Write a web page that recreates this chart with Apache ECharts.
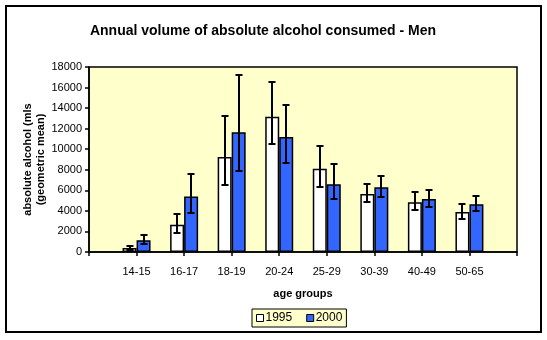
<!DOCTYPE html>
<html>
<head>
<meta charset="utf-8">
<script src="https://cdn.jsdelivr.net/npm/echarts@6/dist/echarts.min.js"></script>
<style>
html,body{margin:0;padding:0;background:#fff;}
#chart{width:547px;height:340px;}
</style>
</head>
<body>
<div id="chart"></div>
<script>
var categories = ['14-15', '16-17', '18-19', '20-24', '25-29', '30-39', '40-49', '50-65'];
var values1995 = [400, 2650, 9250, 13150, 8100, 5650, 4850, 3900];
var low1995    = [200, 1850, 6500, 10500, 6300, 4850, 4100, 3200];
var high1995   = [580, 3700, 13200, 16550, 10300, 6600, 5850, 4650];
var values2000 = [1150, 5400, 11650, 11200, 6600, 6300, 5150, 4650];
var low2000    = [800, 3800, 7900, 8650, 5150, 5400, 4400, 4000];
var high2000   = [1650, 7600, 17200, 14300, 8550, 7400, 6050, 5450];
var yTicks = [0, 2000, 4000, 6000, 8000, 10000, 12000, 14000, 16000, 18000];

// category axis padded with an empty slot on each side
var cats = [''].concat(categories, ['']);
function pad(a) { return [null].concat(a, [null]); }
function errData(lo, hi) {
  return categories.map(function (c, i) { return [i + 1, lo[i], hi[i]]; });
}
var BAR_W = 14;
function errRender(offset) {
  return function (params, api) {
    var x = api.value(0), lo = api.value(1), hi = api.value(2);
    var pLo = api.coord([x, lo]);
    var pHi = api.coord([x, hi]);
    var cx = Math.round(pLo[0] + offset);
    var cap = 3.5;
    var st = { stroke: '#000', lineWidth: 2 };
    var yHi = Math.round(pHi[1]), yLo = Math.round(pLo[1]);
    return {
      type: 'group',
      children: [
        { type: 'line', shape: { x1: cx, y1: yHi, x2: cx, y2: yLo }, style: st },
        { type: 'line', shape: { x1: cx - cap, y1: yHi, x2: cx + cap, y2: yHi }, style: st },
        { type: 'line', shape: { x1: cx - cap, y1: yLo, x2: cx + cap, y2: yLo }, style: st }
      ]
    };
  };
}

var chart = echarts.init(document.getElementById('chart'), null, { renderer: 'canvas' });
var font = 'Liberation Sans, Arial, sans-serif';
chart.setOption({
  animation: false,
  backgroundColor: '#fff',
  textStyle: { fontFamily: font },
  title: {
    text: 'Annual volume of absolute alcohol consumed - Men',
    left: 258, top: 19, textAlign: 'center',
    textStyle: { fontFamily: font, fontSize: 14, fontWeight: 'bold', color: '#000' }
  },
  grid: {
    left: 89, right: 30, top: 67, bottom: 88,
    show: true, backgroundColor: '#FFFFCC', borderColor: '#000', borderWidth: 1.5
  },
  legend: {
    data: ['1995', '2000'],
    left: 252, top: 309,
    padding: [3, 4, 3, 4],
    itemGap: 14, itemWidth: 7, itemHeight: 7,
    backgroundColor: '#FFFFCC', borderColor: '#000', borderWidth: 1,
    icon: 'rect',
    itemStyle: { borderColor: '#000', borderWidth: 1 },
    textStyle: { fontFamily: font, fontSize: 12, color: '#000', padding: [0, 0, 0, -3] }
  },
  xAxis: {
    type: 'category',
    data: cats,
    boundaryGap: false,
    name: 'age groups',
    nameLocation: 'middle',
    nameGap: 36,
    nameTextStyle: { fontFamily: font, fontSize: 11, fontWeight: 'bold', color: '#000' },
    axisLine: { lineStyle: { color: '#000', width: 1.5 } },
    axisTick: { show: true, inside: false, length: 4, lineStyle: { color: '#000', width: 1.5 } },
    axisLabel: { fontFamily: font, fontSize: 11, color: '#000', margin: 14, interval: 0 },
    splitLine: { show: false }
  },
  yAxis: {
    type: 'value',
    min: 0, max: 18000, interval: 2000,
    name: 'absolute alcohol (mls\n(geometric mean)',
    nameLocation: 'middle',
    nameRotate: 90,
    nameGap: 42,
    nameMoveOverlap: false,
    nameTextStyle: { fontFamily: font, fontSize: 11, fontWeight: 'bold', color: '#000', lineHeight: 13 },
    axisLine: { show: true, lineStyle: { color: '#000', width: 1.5 } },
    axisTick: { show: true, inside: false, length: 4, lineStyle: { color: '#000', width: 1.5 } },
    axisLabel: { fontFamily: font, fontSize: 11, color: '#000', margin: 7,
      formatter: function (v) { return yTicks.indexOf(v) >= 0 ? String(v) : ''; } },
    splitLine: { show: false }
  },
  series: [
    {
      name: '1995', type: 'bar', data: pad(values1995), barWidth: BAR_W, barGap: '0%',
      itemStyle: { color: '#FFFFFF', borderColor: '#000', borderWidth: 1.5 }
    },
    {
      name: '2000', type: 'bar', data: pad(values2000), barWidth: BAR_W, barGap: '0%',
      itemStyle: { color: '#3366FF', borderColor: '#000', borderWidth: 1.5 }
    },
    {
      name: 'err1995', type: 'custom', data: errData(low1995, high1995),
      renderItem: errRender(-BAR_W / 2), z: 10, encode: { x: 0, y: [1, 2] }
    },
    {
      name: 'err2000', type: 'custom', data: errData(low2000, high2000),
      renderItem: errRender(BAR_W / 2), z: 10, encode: { x: 0, y: [1, 2] }
    }
  ],
  graphic: [
    { type: 'rect', shape: { x: 6, y: 6, width: 535, height: 326 },
      style: { fill: 'none', stroke: '#000', lineWidth: 2 }, z: 100, silent: true }
  ]
});
</script>
</body>
</html>
